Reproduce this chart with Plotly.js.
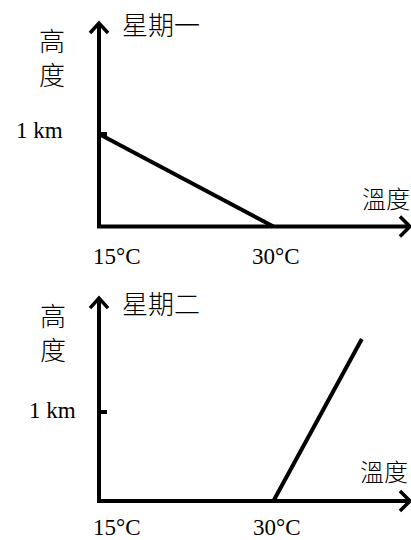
<!DOCTYPE html>
<html><head><meta charset="utf-8">
<script src="https://cdn.plot.ly/plotly-3.0.1.min.js"></script>
<style>html,body{margin:0;padding:0;background:#fff}</style>
</head><body><div id="chart" style="width:411px;height:540px"></div>
<script>
// ---- data ----
const tempTickValues = [15, 30];
const tempTickLabels = ['15°C', '30°C'];
const heightTickValue = 1;
const heightTickLabel = '1 km';
const panelTitles = ['星期一', '星期二'];
const yAxisTitle = '高<br>度';
const xAxisTitle = '溫度';
const mondayTemp = [15, 30];
const mondayHeight = [1, 0];
const tuesdayTemp = [30, 37.6];
const tuesdayHeight = [0, 1.82];

// ---- styles ----
const latin = 'Liberation Serif, Times New Roman, serif';
const cjk = 'Noto Sans CJK TC, Noto Sans CJK SC, sans-serif';
const W = 411, H = 540;
const px = x => x / W, py = y => 1 - y / H;
const lw = 4;

const traces = [
  {x: mondayTemp, y: mondayHeight, xaxis: 'x', yaxis: 'y', mode: 'lines',
   line: {color: '#000', width: lw}, hoverinfo: 'skip', showlegend: false},
  {x: tuesdayTemp, y: tuesdayHeight, xaxis: 'x2', yaxis: 'y2', mode: 'lines',
   line: {color: '#000', width: lw}, hoverinfo: 'skip', showlegend: false}
];

const hidden = {visible: false, fixedrange: true};
const xRange = [6.487, 41.83];
const panels = [
  {xr: 'x', yr: 'y', yTip: 2.2, xTip: 41.74, tickY: -29.5, kmShift: -34, kmY: 4,
   title: {x: 161, y: 24}, ytitle: {x: 52, y: 57}, xtitle: {x: 361, y: 197}, x30: 2.5},
  {xr: 'x2', yr: 'y2', yTip: 2.28, xTip: 41.74, tickY: -26, kmShift: -21, kmY: 2,
   title: {x: 161, y: 302}, ytitle: {x: 53, y: 331}, xtitle: {x: 359, y: 470}, x30: 3.5}
];

const origin = tempTickValues[0];
const shapes = [];
const annotations = [];
panels.forEach((p, i) => {
  // axes
  shapes.push({type: 'path', xref: p.xr, yref: p.yr,
    path: `M${origin},${p.yTip - 0.02} L${origin},0 L${p.xTip - 0.15},0`,
    line: {color: '#000', width: lw}});
  // y arrow head
  shapes.push({type: 'path', xref: p.xr, yref: p.yr, xsizemode: 'pixel', ysizemode: 'pixel',
    xanchor: origin, yanchor: p.yTip, path: 'M-9,-10 L0,0 L9,-10',
    line: {color: '#000', width: 3.5}});
  // x arrow head
  shapes.push({type: 'path', xref: p.xr, yref: p.yr, xsizemode: 'pixel', ysizemode: 'pixel',
    xanchor: p.xTip, yanchor: 0, path: 'M-10,10 L0,0 L-10,-10',
    line: {color: '#000', width: 3.5}});
  // 1 km tick
  shapes.push({type: 'line', xref: p.xr, yref: p.yr, xsizemode: 'pixel',
    xanchor: origin, x0: 0, x1: 8, y0: heightTickValue, y1: heightTickValue,
    line: {color: '#000', width: lw}});

  // tick labels
  tempTickValues.forEach((v, j) => {
    annotations.push({xref: p.xr, yref: p.yr, x: v, y: 0, text: tempTickLabels[j],
      showarrow: false, xanchor: 'center', yanchor: 'middle', borderpad: 0,
      xshift: j === 0 ? 18 : p.x30, yshift: p.tickY,
      font: {family: latin, size: 23, color: '#000'}});
  });
  annotations.push({xref: p.xr, yref: p.yr, x: origin, y: heightTickValue, text: heightTickLabel,
    showarrow: false, xanchor: 'right', yanchor: 'middle', xshift: p.kmShift, yshift: p.kmY,
    font: {family: latin, size: 23, color: '#000'}});
  // titles
  annotations.push({xref: 'paper', yref: 'paper', x: px(p.title.x), y: py(p.title.y),
    text: panelTitles[i], showarrow: false, xanchor: 'center', yanchor: 'middle',
    font: {family: cjk, size: 26, color: '#000', weight: 300}});
  annotations.push({xref: 'paper', yref: 'paper', x: px(p.ytitle.x), y: py(p.ytitle.y),
    text: yAxisTitle, showarrow: false, xanchor: 'center', yanchor: 'middle',
    font: {family: cjk, size: 26, color: '#000', weight: 300}});
  annotations.push({xref: 'paper', yref: 'paper', x: px(p.xtitle.x), y: py(p.xtitle.y),
    text: xAxisTitle, showarrow: false, xanchor: 'left', yanchor: 'middle', borderpad: 0,
    font: {family: cjk, size: 24, color: '#000', weight: 300}});
});

const layout = {
  width: W, height: H, margin: {l: 0, r: 0, t: 0, b: 0},
  paper_bgcolor: '#fff', plot_bgcolor: '#fff', showlegend: false,
  xaxis: Object.assign({domain: [0, 1], range: xRange, anchor: 'y'}, hidden),
  yaxis: Object.assign({domain: [0.5, 1], range: [-0.470, 2.449], anchor: 'x'}, hidden),
  xaxis2: Object.assign({domain: [0, 1], range: xRange, anchor: 'y2'}, hidden),
  yaxis2: Object.assign({domain: [0, 0.5], range: [-0.438, 2.596], anchor: 'x2'}, hidden),
  shapes, annotations
};

Plotly.newPlot('chart', traces, layout, {staticPlot: true, displayModeBar: false});
</script></body></html>
